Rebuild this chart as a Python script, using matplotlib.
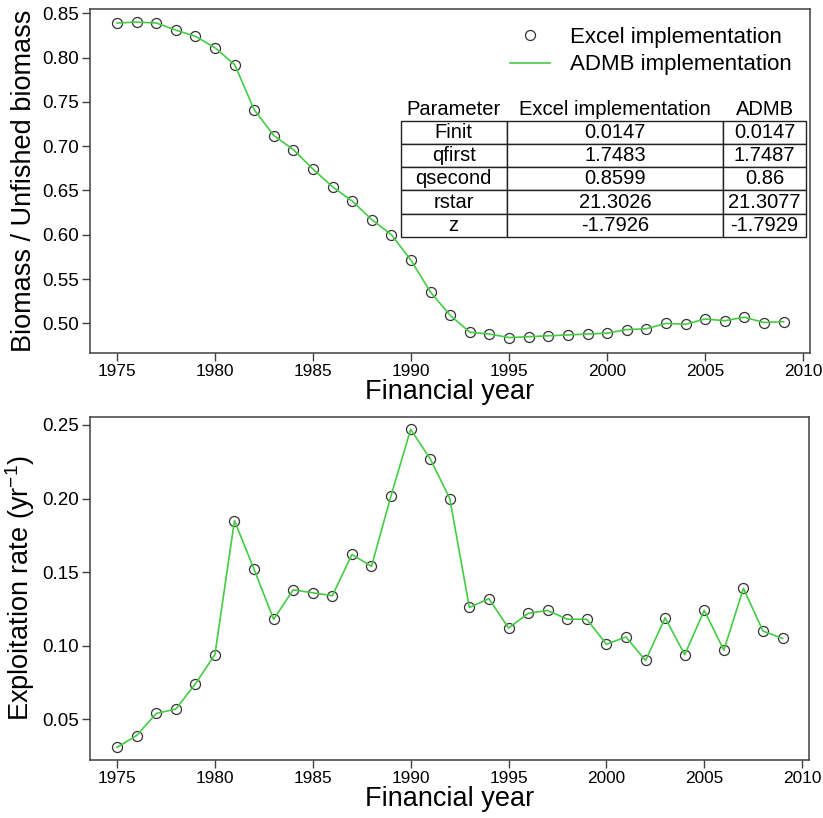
import matplotlib
matplotlib.use("Agg")
import matplotlib.pyplot as plt

plt.rcParams["font.family"] = ["Liberation Sans", "DejaVu Sans"]
plt.rcParams["mathtext.default"] = "regular"

# ── data ────────────────────────────────────────────────────────────────
years = list(range(1975, 2010))

biomass_ratio = [
    0.839, 0.840, 0.839, 0.831, 0.824, 0.811, 0.792, 0.741, 0.712, 0.696,
    0.674, 0.654, 0.638, 0.617, 0.600, 0.571, 0.535, 0.509, 0.490, 0.488,
    0.484, 0.485, 0.486, 0.487, 0.488, 0.489, 0.493, 0.494, 0.500, 0.499,
    0.505, 0.503, 0.507, 0.501, 0.502,
]

exploitation = [
    0.031, 0.039, 0.054, 0.057, 0.074, 0.094, 0.185, 0.152, 0.118, 0.138,
    0.136, 0.134, 0.162, 0.154, 0.202, 0.247, 0.227, 0.200, 0.126, 0.132,
    0.112, 0.122, 0.124, 0.118, 0.118, 0.101, 0.106, 0.090, 0.119, 0.094,
    0.124, 0.097, 0.139, 0.110, 0.105,
]

param_names = ["Finit", "qfirst", "qsecond", "rstar", "z"]
excel_vals = ["0.0147", "1.7483", "0.8599", "21.3026", "-1.7926"]
admb_vals = ["0.0147", "1.7487", "0.86", "21.3077", "-1.7929"]
table_headers = ["Parameter", "Excel implementation", "ADMB"]

# ── styling ─────────────────────────────────────────────────────────────
green = "#44cc44"
circ = "#333333"
frame = "#404040"
label_fs = 19.5
xticks = [1975, 1980, 1985, 1990, 1995, 2000, 2005, 2010]


def style_axes(ax):
    for s in ax.spines.values():
        s.set_color(frame)
        s.set_linewidth(1.1)
    ax.tick_params(direction="out", length=6, width=1.0, color=frame, pad=2)
    ax.tick_params(axis="y", labelsize=13.5)
    ax.tick_params(axis="x", labelsize=12.4)
    ax.set_xticks(xticks)
    ax.set_xlim(1973.62, 2010.35)
    ax.set_xlabel("Financial year", fontsize=label_fs, labelpad=0)


fig = plt.figure(figsize=(8.23, 8.18), dpi=100)
W, H = 823, 818
ax1 = fig.add_axes([90 / W, 1 - 353 / H, 720 / W, 344 / H])
ax2 = fig.add_axes([90 / W, 1 - 760 / H, 719 / W, 343 / H])

# top panel
ax1.plot(years, biomass_ratio, "o", ms=7.2, mfc="none", mec=circ, mew=0.9,
         label="Excel implementation")
ax1.plot(years, biomass_ratio, "-", color=green, lw=1.2,
         label="ADMB implementation")
ax1.set_ylim(0.4666, 0.8548)
ax1.set_yticks([0.50, 0.55, 0.60, 0.65, 0.70, 0.75, 0.80, 0.85])
ax1.set_yticklabels([f"{v:.2f}" for v in ax1.get_yticks()])
ax1.set_ylabel("Biomass / Unfished biomass", fontsize=label_fs, labelpad=4)
style_axes(ax1)

leg = ax1.legend(loc="upper right", bbox_to_anchor=(1.0, 1.0), frameon=False,
                 fontsize=16, handlelength=1.8, handletextpad=0.9,
                 labelspacing=0.3, borderaxespad=0.4)

rows = [[p, e, a] for p, e, a in zip(param_names, excel_vals, admb_vals)]
tab = ax1.table(cellText=rows, colLabels=table_headers, cellLoc="center",
                colWidths=[0.2615, 0.5344, 0.2041],
                bbox=[0.4315, 0.3381, 0.5629, 0.4032])
tab.auto_set_font_size(False)
tab.set_fontsize(14.5)
for (r, c), cell in tab.get_celld().items():
    cell.set_edgecolor("#222222")
    cell.set_linewidth(1.0)
    cell.PAD = 0.02
    if r == 0:
        cell.visible_edges = ""
        cell.set_facecolor("none")

# bottom panel
ax2.plot(years, exploitation, "o", ms=7.2, mfc="none", mec=circ, mew=0.9)
ax2.plot(years, exploitation, "-", color=green, lw=1.2)
ax2.set_ylim(0.0224, 0.2554)
ax2.set_yticks([0.05, 0.10, 0.15, 0.20, 0.25])
ax2.set_yticklabels([f"{v:.2f}" for v in ax2.get_yticks()])
ax2.set_ylabel(r"Exploitation rate (yr$^{-1}$)", fontsize=label_fs, labelpad=4)
style_axes(ax2)

fig.savefig("out.png", dpi=100)
